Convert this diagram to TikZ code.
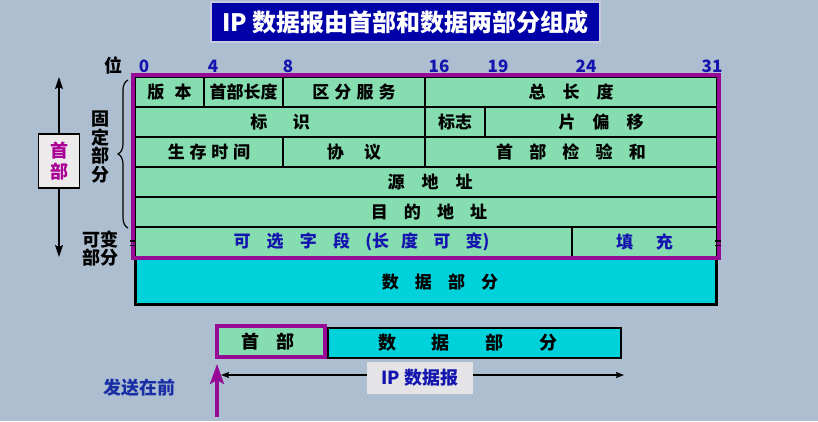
\documentclass[tikz,border=0pt]{standalone}
\usepackage{fontspec}
\setmainfont{Noto Sans CJK SC}
\usetikzlibrary{arrows.meta,decorations.pathreplacing}
\definecolor{bgc}{RGB}{172,190,208}
\definecolor{cellgreen}{RGB}{134,222,176}
\definecolor{purp}{RGB}{150,10,150}
\definecolor{cyanbox}{RGB}{0,210,220}
\definecolor{titleblue}{RGB}{0,0,168}
\definecolor{bitblue}{RGB}{20,20,175}
\definecolor{magtext}{RGB}{170,0,150}
\definecolor{sendblue}{RGB}{25,45,165}
\definecolor{lblgrey}{RGB}{228,228,230}
\newcommand\sgap[1]{\hspace{#1em}}
\begin{document}
\begin{tikzpicture}[x=1pt,y=-1pt,
  every node/.style={inner sep=0pt,outer sep=0pt},
  cell/.style={draw=black,line width=1.3pt,fill=cellgreen,minimum height=30pt,anchor=north west,
    font=\fontsize{17}{17}\selectfont\bfseries},
  bit/.style={text=bitblue,font=\fontsize{17}{17}\selectfont\bfseries},
  lbl/.style={font=\fontsize{18}{18}\selectfont\bfseries,align=center},
  darr/.style={line width=1.3pt,-{Stealth[length=12pt,width=8pt,inset=2pt]}},
  iparr/.style={line width=1.4pt,{Stealth[length=8pt,width=6pt,inset=1pt]}-{Stealth[length=8pt,width=6pt,inset=1pt]}},
  sendarr/.style={draw=purp,line width=3.2pt,-{Stealth[length=20pt,width=14pt,inset=4pt]}}]
\useasboundingbox (0,0) rectangle (818,421);
\fill[bgc] (0,0) rectangle (818,421);

% title
\node[draw={rgb,255:red,200;green,200;blue,225},line width=1.5pt,fill=titleblue,text=white,
  minimum width=389pt,minimum height=40pt,font=\fontsize{24}{24}\selectfont\bfseries]
  (title) at (405.5,22) {IP 数据报由首部和数据两部分组成};

% bit labels
\node[font=\fontsize{18}{18}\selectfont\bfseries] (wei) at (113,65) {位};
\node[bit] (b0) at (144,66) {0};
\node[bit] (b4) at (213,66) {4};
\node[bit] (b8) at (288,66) {8};
\node[bit] (b16) at (439,66) {16};
\node[bit] (b19) at (498,66) {19};
\node[bit] (b24) at (586,66) {24};
\node[bit] (b31) at (712,66) {31};

% data box (under the header frame)
\node[draw=black,line width=2.5pt,fill=cyanbox,minimum width=581pt,minimum height=45.5pt,anchor=north west,
  font=\fontsize{17}{17}\selectfont\bfseries] (data) at (135.5,259)
  {\hspace{28pt}数\sgap{.95}据\sgap{.95}部\sgap{.95}分};

% row 1
\node[cell,minimum width=69pt] (ver) at (135,77) {版\sgap{.6}本};
\node[cell,minimum width=79pt] (hlen) at (204,77) {首部长度};
\node[cell,minimum width=142pt] (tos) at (283,77) {区\sgap{.3}分\sgap{.3}服\sgap{.3}务};
\node[cell,minimum width=292pt] (tot) at (425,77) {总\sgap{1}长\sgap{1}度};
% row 2
\node[cell,minimum width=290pt] (ident) at (135,107) {标\sgap{1.5}识};
\node[cell,minimum width=60pt] (flag) at (425,107) {标志};
\node[cell,minimum width=232pt] (frag) at (485,107) {片\sgap{1}偏\sgap{1}移};
% row 3
\node[cell,minimum width=148pt] (ttl) at (135,137) {生\sgap{.28}存\sgap{.28}时\sgap{.28}间};
\node[cell,minimum width=142pt] (proto) at (283,137) {协\sgap{1.2}议};
\node[cell,minimum width=292pt] (chk) at (425,137) {首\sgap{.95}部\sgap{.95}检\sgap{.95}验\sgap{.95}和};
% row 4, 5
\node[cell,minimum width=582pt] (src) at (135,167) {\hspace{8pt}源\sgap{1}地\sgap{1}址};
\node[cell,minimum width=582pt] (dst) at (135,197) {\hspace{6pt}目\sgap{.95}的\sgap{.95}地\sgap{.95}址};
% row 6
\node[cell,minimum width=437pt,text=bitblue] (opt) at (135,227)
  {\hspace{16pt}可\sgap{.95}选\sgap{.95}字\sgap{.95}段\sgap{.9}(长\sgap{.7}度\sgap{.9}可\sgap{.9}变)};
\node[cell,minimum width=145pt,text=bitblue] (pad) at (572,227) {填\sgap{1.35}充};

% purple header frame
\node[draw=purp,line width=4pt,minimum width=586pt,minimum height=183pt,anchor=north west] (hframe) at (133,75) {};

% variable-length marks
\draw[line width=1.6pt] (129.5,241) -- (135.5,241) (129.5,245.5) -- (135.5,245.5);
\draw[line width=1.6pt] (715,241) -- (721,241) (715,245.5) -- (721,245.5);

% left side
\node[draw=black,line width=1.3pt,fill={rgb,255:red,236;green,234;blue,234},minimum width=41pt,minimum height=54pt,
  text=magtext,font=\fontsize{18}{21}\selectfont\bfseries,align=center] (lbox) at (59,161) {首\\部};
\coordinate (atop) at (59,77);
\coordinate (abot) at (59,257);
\draw[darr] (lbox.north) -- (atop);
\draw[darr] (lbox.south) -- (abot);

\node[font=\fontsize{18}{18.5}\selectfont\bfseries,align=center] (fixed) at (100,147) {固\\定\\部\\分};
\node[font=\fontsize{18}{18}\selectfont\bfseries,align=center] (var) at (100,248.5) {可变\\部分};
\coordinate (brbot) at (128,228);
\coordinate (brtop) at (128,80);
\draw[decorate,decoration={brace,amplitude=10pt},line width=1.2pt] (brbot) -- (brtop);

% bottom datagram
\node[draw=black,line width=2pt,fill=cyanbox,minimum width=293pt,minimum height=30pt,
  font=\fontsize{18}{18}\selectfont\bfseries] (bdata) at (474,342.5)
  {\hspace{-12pt}数\sgap{2}据\sgap{2}部\sgap{2}分};
\node[draw=purp,line width=4pt,fill=cellgreen,minimum width=108pt,minimum height=31pt,
  font=\fontsize{18}{18}\selectfont\bfseries] (bhdr) at (271,341.5) {\hspace{-6pt}首\sgap{.95}部};

\coordinate (ipl) at (221,375);
\coordinate (ipr) at (624,375);
\draw[iparr] (ipl) -- (ipr);
\node[fill=lblgrey,minimum width=106pt,minimum height=32pt,text=bitblue,
  font=\fontsize{18}{18}\selectfont\bfseries] (iplbl) at (420,378) {IP 数据报};

\coordinate (sendbot) at (217,417);
\coordinate (sendtop) at (217,364);
\draw[sendarr] (sendbot) -- (sendtop);
\node[text=sendblue,font=\fontsize{18}{18}\selectfont\bfseries] (send) at (139,388) {发送在前};
\end{tikzpicture}
\end{document}
